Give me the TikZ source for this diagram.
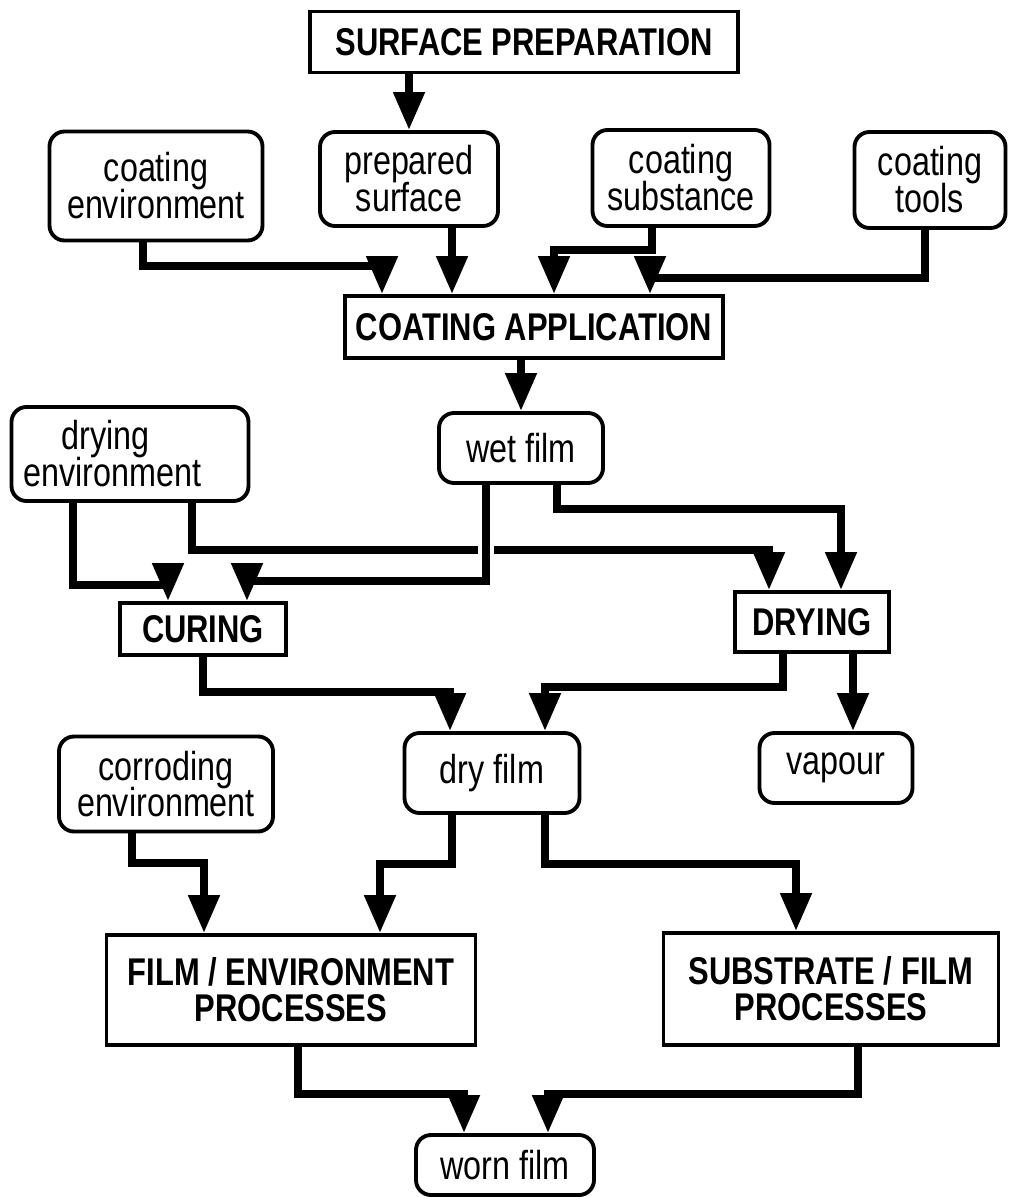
\documentclass[tikz,border=0pt]{standalone}
\usepackage{fontspec}
\setmainfont[FakeStretch=0.8]{Liberation Sans}
\usetikzlibrary{arrows.meta, calc}
\setlength{\lineskiplimit}{-20pt}

\begin{document}
\begin{tikzpicture}[
        x=0.2mm, y=-0.2mm,
        >={Triangle[length=7.6mm, width=6mm]},
        boxsize/.style 2 args={minimum width=#1*0.2mm, minimum height=#2*0.2mm},
        process/.style={rectangle, draw, line width=2.2pt, inner sep=0pt, align=center,
            font={\bfseries\fontsize{22}{20.5}\selectfont}},
        material/.style={rectangle, rounded corners=3mm, draw, line width=2.2pt, inner sep=0pt, align=center,
            font={\fontsize{23}{21}\selectfont}},
        flow/.style={->, line width=4.5pt}
    ]
        \fill[white] (0,0) rectangle (1008,1197);
        \useasboundingbox (0,0) rectangle (1008,1197);

        % Preparation and inputs
        \node[process, boxsize={428}{61}] (sprep) at (524,42) {SURFACE PREPARATION};
        \node[material, boxsize={213}{109}] (cenv) at (156,186) {coating\\environment};
        \node[material, boxsize={178}{94}] (psurf) at (409,179) {prepared\\surface};
        \node[material, boxsize={177}{96}] (csub) at (681,178) {coating\\substance};
        \node[material, boxsize={151}{96}] (ctools) at (930,180) {coating\\tools};
        \node[process, boxsize={378}{62}] (capp) at (534,327) {COATING APPLICATION};

        % Film formation
        \node[material, boxsize={237}{94}] (dryenv) at (130,454) {drying\hspace*{28pt}\\environment\hspace*{20pt}};
        \node[material, boxsize={164}{70}] (wet) at (521,448) {wet film};
        \node[process, boxsize={166}{52}] (curing) at (203,629) {CURING};
        \node[process, boxsize={154}{60}] (drying) at (812,622) {DRYING};
        \node[material, boxsize={175}{80}] (dry) at (492,773) {dry film};
        \node[material, boxsize={153}{70}] (vapour) at (836,768) {vapour};

        % Degradation
        \node[material, boxsize={214}{95}] (corr) at (166,784) {corroding\\environment};
        \node[process, boxsize={369}{110}] (filmenv) at (291,990) {FILM / ENVIRONMENT\\PROCESSES};
        \node[process, boxsize={335}{112}] (subfilm) at (831,989) {SUBSTRATE / FILM\\PROCESSES};
        \node[material, boxsize={178}{60}] (worn) at (505,1165) {worn film};

        % Arrows into coating application
        \draw[flow] (sprep.south -| psurf.north) -- (psurf.north);
        \draw[flow] ($(cenv.south)+(-13,0)$) -- ++(0,24) -| ($(capp.north)+(-152,0)$);
        \draw[flow] ($(psurf.south)+(43,0)$) coordinate (t) -- (t |- capp.north);
        \draw[flow] ($(csub.south)+(-29,0)$) -- ++(0,22) -| ($(capp.north)+(20,0)$);
        \draw[flow] ($(ctools.south)+(-5,0)$) -- ++(0,48) -| ($(capp.north)+(116,0)$);
        \draw[flow] (capp.south -| wet.north) -- (wet.north);

        % Arrows into curing and drying
        \draw[flow] ($(dryenv.south)+(-57,0)$) -- ++(0,82) -| ($(curing.north)+(-35,0)$);
        \draw[flow] ($(dryenv.south)+(62,0)$) -- ++(0,47) -| ($(drying.north)+(-43,0)$);
        \draw[white, line width=9pt] ($(wet.south)+(-35,55)$) -- ++(0,20);
        \draw[flow] ($(wet.south)+(-35,0)$) -- ++(0,96) -| ($(curing.north)+(44,0)$);
        \draw[flow] ($(wet.south)+(36,0)$) -- ++(0,24) -| ($(drying.north)+(29,0)$);

        % Arrows into dry film and vapour
        \draw[flow] (curing.south) -- ++(0,35) -| ($(dry.north)+(-42,0)$);
        \draw[flow] ($(drying.south)+(-29,0)$) -- ++(0,33) -| ($(dry.north)+(53,0)$);
        \draw[flow] ($(drying.south)+(41,0)$) coordinate (v) -- (v |- vapour.north);

        % Arrows into processes
        \draw[flow] ($(corr.south)+(-34,0)$) -- ++(0,30) -| ($(filmenv.north)+(-87,0)$);
        \draw[flow] ($(dry.south)+(-40,0)$) -- ++(0,49) -| ($(filmenv.north)+(89,0)$);
        \draw[flow] ($(dry.south)+(53,0)$) -- ++(0,49) -| ($(subfilm.north)+(-35,0)$);

        % Arrows into worn film
        \draw[flow] ($(filmenv.south)+(7,0)$) -- ++(0,47) -| ($(worn.north)+(-41,0)$);
        \draw[flow] ($(subfilm.south)+(27,0)$) -- ++(0,47) -| ($(worn.north)+(43,0)$);
    \end{tikzpicture}
\end{document}
